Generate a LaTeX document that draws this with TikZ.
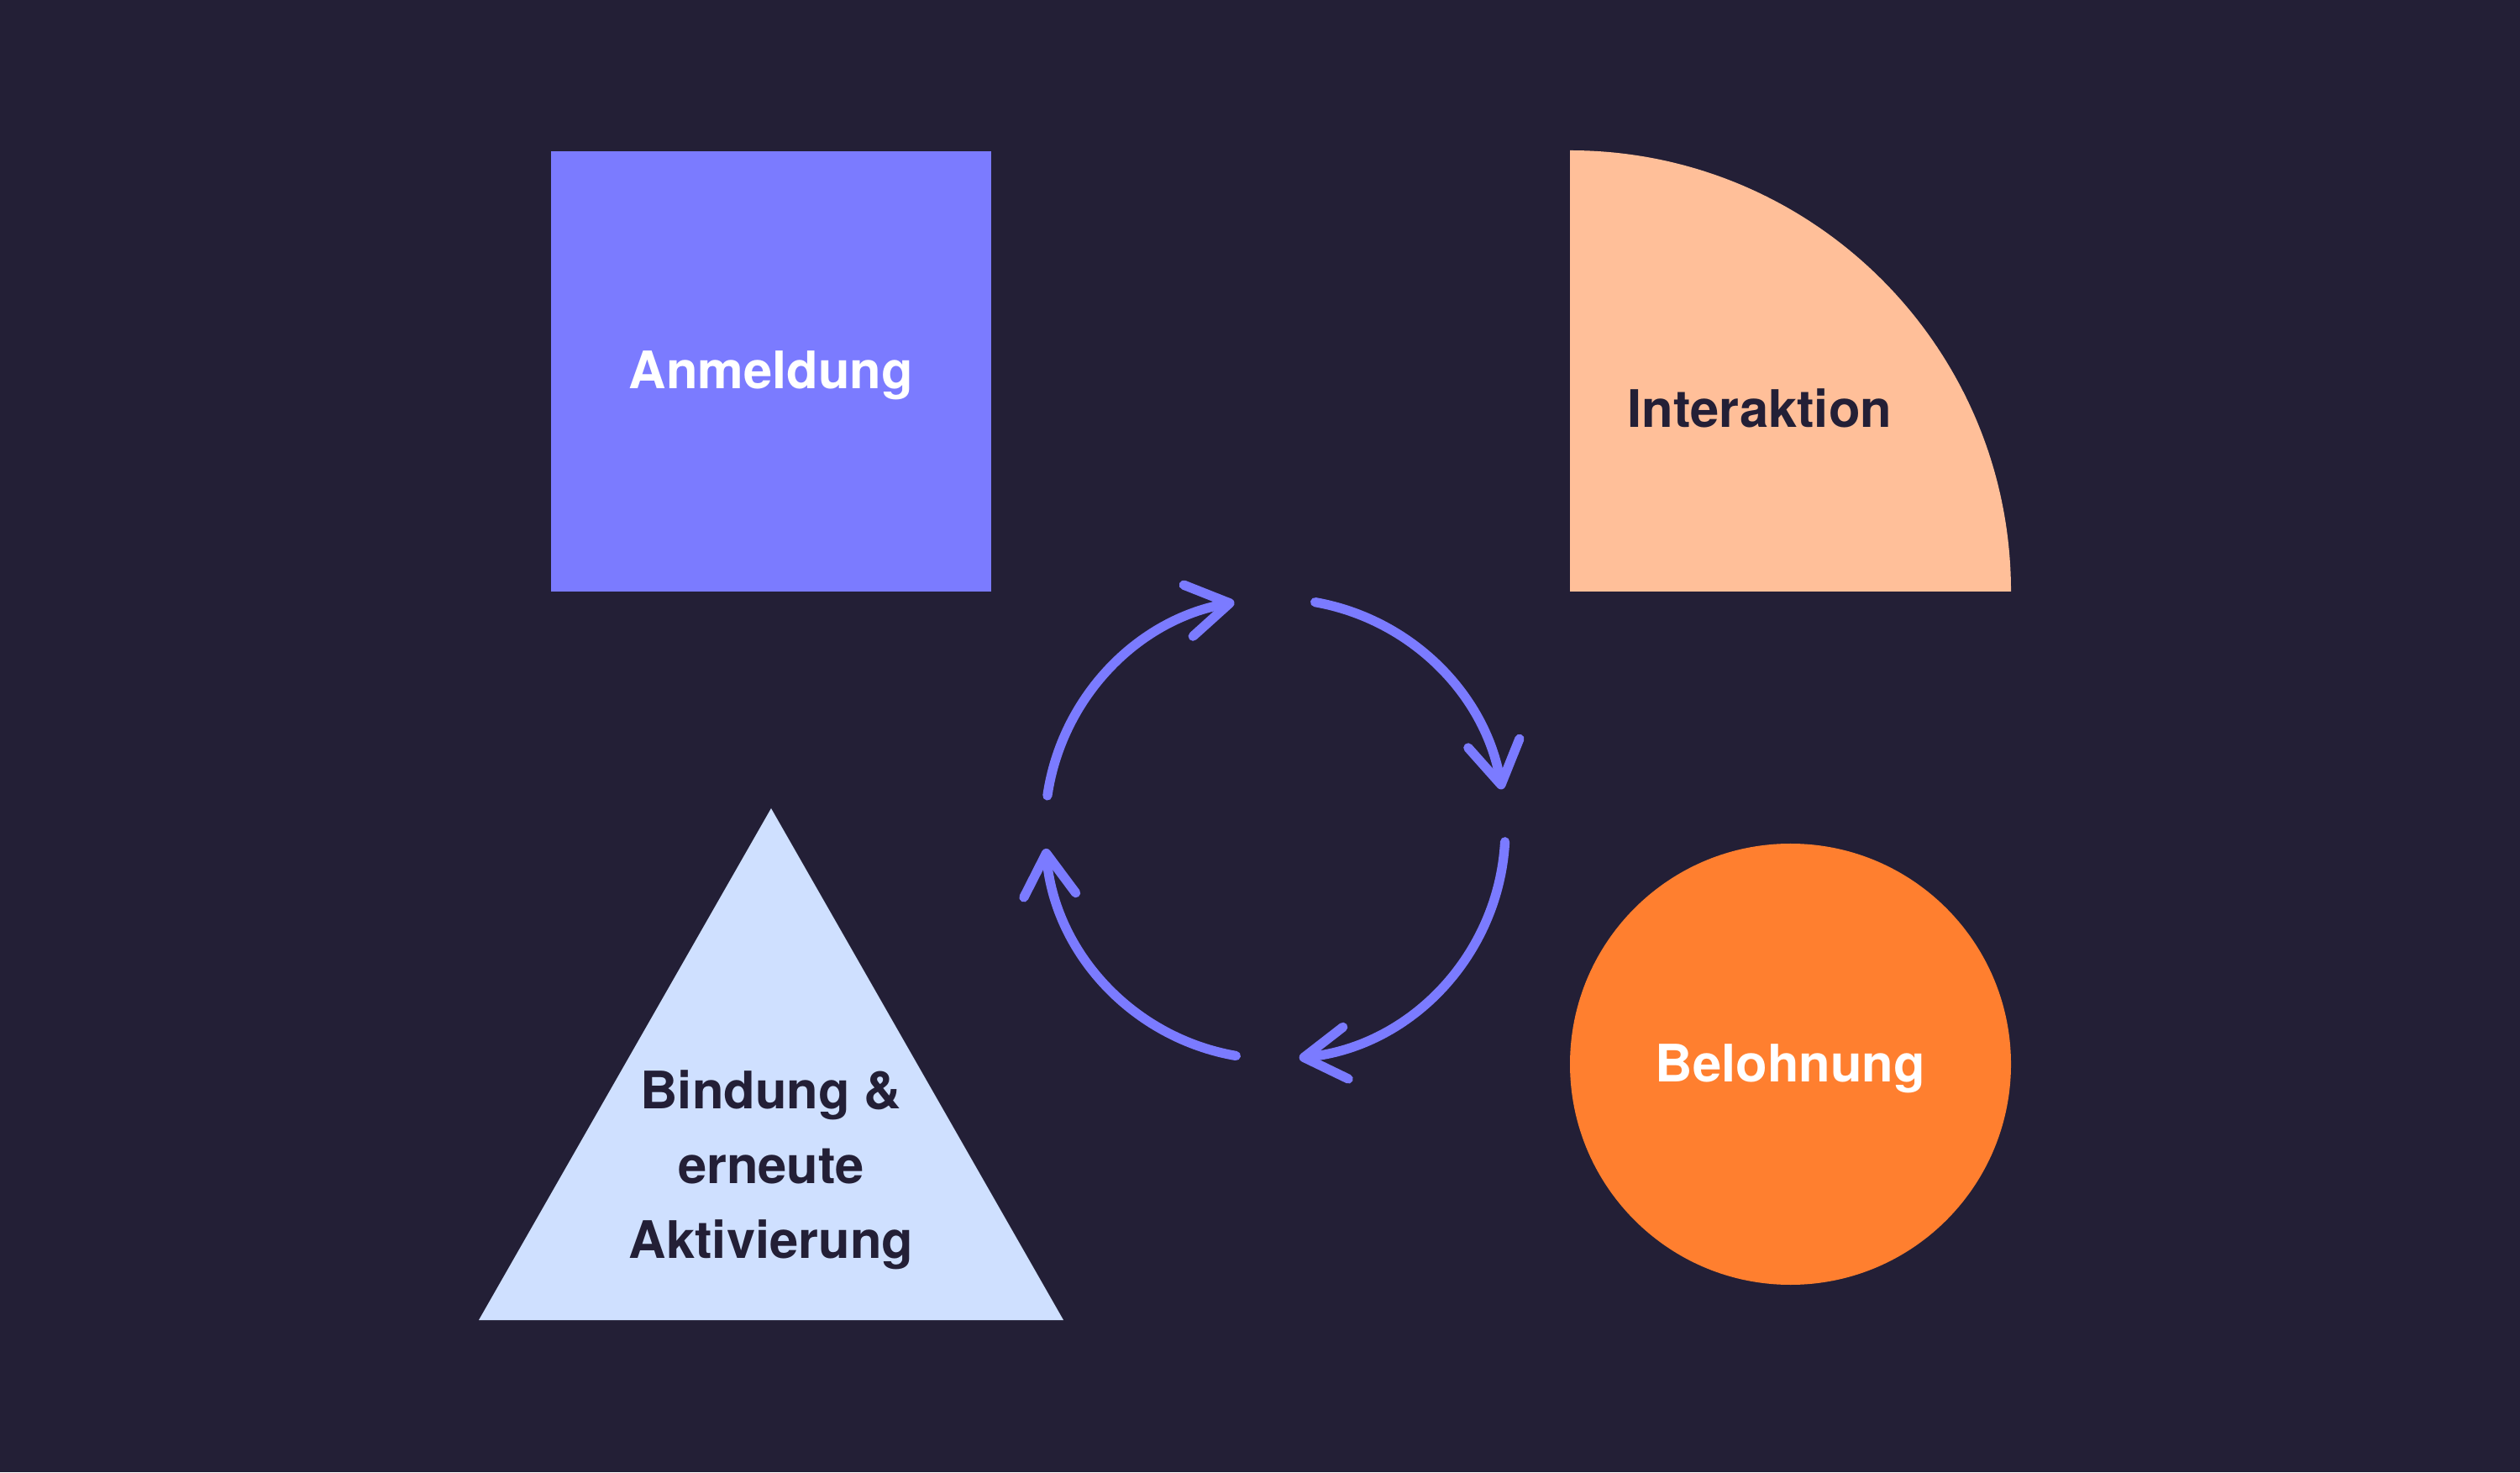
\documentclass[tikz,border=0pt]{standalone}
\usepackage{fontspec}
\setmainfont{TeX Gyre Heros}
\usepackage{tikz}
\usetikzlibrary{arrows.meta}
\usetikzlibrary{positioning}
\definecolor{bg}{HTML}{231F36}
\definecolor{lila}{HTML}{7B7BFF}
\definecolor{pfirsich}{HTML}{FFBF99}
\definecolor{orange}{HTML}{FF7F2F}
\definecolor{hellblau}{HTML}{CFE0FF}
\tikzset{lbl/.style = {font=\fontsize{17.5}{25.3}\selectfont\bfseries, inner sep=0pt, anchor=base}}
\tikzset{cyc/.style = {draw=lila, line width=3.2pt, line cap=round, line join=round,
                       -{Straight Barb[length=5mm, width=6.2mm, round]}}}

\begin{document}
\begin{tikzpicture}
			\fill [bg] (0, 0) rectangle (30, 17.52);
			\useasboundingbox (0, 0) rectangle (30, 17.52);
			\node [fill=lila, minimum size=5.24cm, inner sep=0pt] (0) at (9.18, 13.1) {};
			\fill [pfirsich] (18.69, 10.48) -- ++(0, 5.25) arc [start angle=90, end angle=0, radius=5.25] -- cycle;
			\coordinate (1) at (18.69, 10.48);
			\node [circle, fill=orange, minimum size=5.25cm, inner sep=0pt] (2) at (21.315, 4.855) {};
			\coordinate (3a) at (9.18, 7.9);
			\coordinate (3b) at (5.70, 1.81);
			\coordinate (3c) at (12.66, 1.81);
			\fill [hellblau] (3a) -- (3b) -- (3c) -- cycle;
			\node [lbl, text=white] (4) at (9.18, 12.89) {Anmeldung};
			\node [lbl, text=bg] (5) at (20.95, 12.43) {Interaktion};
			\node [lbl, text=white] (6) at (21.315, 4.65) {Belohnung};
			\node [lbl, text=bg, align=center] (7) at (9.18, 2.55) {Bindung \&\\erneute\\Aktivierung};
			\coordinate (8) at (15.18, 7.655);
			\foreach \a/\b in {171.7/100.2, 80/9.9, -3.2/-84, -99.8/-175.1}
				\draw [cyc] ([shift={(\a:2.74)}]8) arc [start angle=\a, end angle=\b, radius=2.74];
		\end{tikzpicture}
\end{document}
